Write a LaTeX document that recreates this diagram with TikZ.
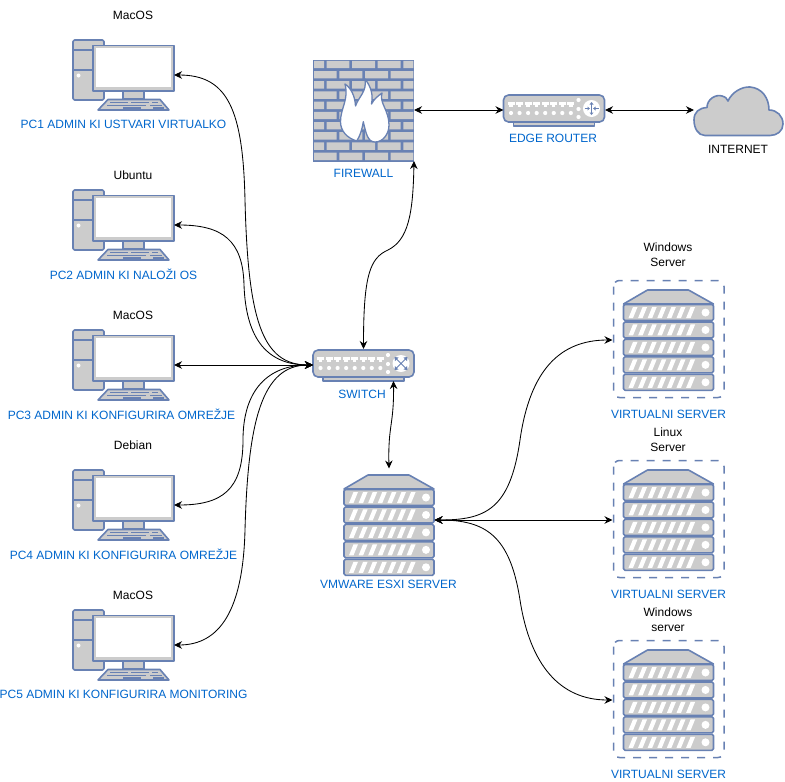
\documentclass[tikz,border=0pt]{standalone}
\usepackage{fontspec}
\setmainfont{Liberation Sans}
\usetikzlibrary{arrows.meta}
\definecolor{icoline}{HTML}{6881B3}
\definecolor{icofill}{HTML}{CCCCCC}
\definecolor{bluetxt}{HTML}{0066CC}
\tikzset{
  x=1pt,y=-1pt,
  ico/.style={draw=icoline,fill=icofill,line width=1.6pt,line join=round},
  hit/.style={inner sep=0pt,outer sep=0pt,minimum width=#1},
  bl/.style={font=\fontsize{12}{14}\selectfont,text=bluetxt,inner sep=0pt},
  bk/.style={font=\fontsize{12}{14}\selectfont,text=black,inner sep=0pt,align=center},
  link/.style={draw=black,line width=0.85pt,{Stealth[length=8pt,width=7.5pt]}-{Stealth[length=8pt,width=7.5pt]}},
  pics/pcicon/.style={code={
    \draw[ico,rounded corners=1.5pt] (73,40) rectangle (104,100);
    \draw[icoline,line width=1.3pt] (73,50) -- (104,50) (73,70) -- (104,70);
    \fill[white] (78.5,75.5) circle (2);
    \draw[ico] (123,90) rectangle (144,99);
    \draw[ico] (108,99.5) -- (160,99.5) -- (169,110) -- (98,110) -- cycle;
    \draw[icoline,line width=1.3pt] (110,102.5) -- (128,102.5) (131,102.5) -- (149,102.5) (152,102.5) -- (158,102.5)
      (107,105.2) -- (146,105.2) (150,105.2) -- (162,105.2)
      (123,108) -- (141,108) (153,108) -- (164,108);
    \draw[ico,fill=icofill,line width=1.8pt] (93,45.5) rectangle (174,91);
    \fill[white] (95.5,48) rectangle (171,87);
  }},
  pics/servericon/.style={code={
    \draw[ico] (0,14) -- (24,0) -- (65,0) -- (90,14) -- cycle;
    \foreach \r in {0,1,2,3,4}{
      \begin{scope}[yshift=-\r*17.45pt]
        \draw[ico,rounded corners=1.5pt] (0,14.5) rectangle (90,30.5);
        \fill[white] (82,22.5) circle (4);
        \foreach \s in {0,1,2,3,4,5,6}{
          \fill[white] (5+\s*9.6,28) -- (9.5+\s*9.6,28) -- (14+\s*9.6,17) -- (9.5+\s*9.6,17) -- cycle;
        }
      \end{scope}
    }
  }},
  pics/switchbody/.style={code={
    \draw[ico,line width=1.3pt] (10,26) rectangle (91,31);
    \draw[ico,rounded corners=5pt] (0,0) rectangle (101,27);
    \foreach \p in {0,...,7}{
      \fill[white] (4+\p*8.55,6.5) rectangle (11+\p*8.55,10);
      \fill[white] (5.8+\p*8.55,10) rectangle (9.2+\p*8.55,12);
      \fill[white] (7.5+\p*8.55,18) circle (2.1);
    }
    \foreach \yy in {5,14,22}{\fill[white] (75,\yy) circle (2.1);}
    \fill[white] (88,13.5) circle (8.5);
  }}
}
\begin{document}
\begin{tikzpicture}
\useasboundingbox (0,0) rectangle (785,782);
% PCs
\foreach \yy in {0,150,290,430,570}{\pic at (0,\yy) {pcicon};}
\node[hit=101,minimum height=70] (pc1) at (123.5,75) {};
\node[hit=101,minimum height=70] (pc2) at (123.5,225) {};
\node[hit=101,minimum height=70] (pc3) at (123.5,365) {};
\node[hit=101,minimum height=70] (pc4) at (123.5,505) {};
\node[hit=101,minimum height=70] (pc5) at (123.5,645) {};
\node[bk] (os1) at (133,15) {MacOS};
\node[bk] (os2) at (133,175) {Ubuntu};
\node[bk] (os3) at (133,315) {MacOS};
\node[bk] (os4) at (133,445) {Debian};
\node[bk] (os5) at (133,595) {MacOS};
\node[bl] (l1) at (123.5,124) {PC1 ADMIN KI USTVARI VIRTUALKO};
\node[bl] (l2) at (123.5,274) {PC2 ADMIN KI NALOŽI OS};
\node[bl] (l3) at (121.5,414) {PC3 ADMIN KI KONFIGURIRA OMREŽJE};
\node[bl] (l4) at (123.5,554) {PC4 ADMIN KI KONFIGURIRA OMREŽJE};
\node[bl] (l5) at (123.5,694) {PC5 ADMIN KI KONFIGURIRA MONITORING};
% Firewall
\fill[icoline] (312.7,59.5) rectangle (414,161.5);
\foreach \r in {0,2,4,6,8}{
  \begin{scope}[yshift=-\r*10.2pt]
    \fill[icofill] (314,60.8) rectangle (324,68.2) (326.7,60.8) rectangle (349.3,68.2)
      (352,60.8) rectangle (375,68.2) (377.7,60.8) rectangle (400.7,68.2) (403.3,60.8) rectangle (413.3,68.2);
    \fill[icofill] (314,71) rectangle (336.7,78.4) (339.3,71) rectangle (362.3,78.4)
      (365,71) rectangle (388,78.4) (390.7,71) rectangle (413.3,78.4);
  \end{scope}
}
\draw[draw=icoline,fill=white,line width=1.3pt,line join=round] (356.7,141)
  .. controls (347,138) and (340.5,131) .. (340.5,121.7)
  .. controls (340.5,108) and (349,100) .. (345,84)
  .. controls (351,88) and (355,96) .. (355.5,106)
  .. controls (359,96) and (367,92) .. (365,79)
  .. controls (372,88) and (373,96) .. (371.5,104)
  .. controls (374,99) and (378,96) .. (382,93)
  .. controls (379,103) and (389,110) .. (389,125)
  .. controls (389,134) and (383,142) .. (375,142)
  .. controls (368,142) and (366,134) .. (363.3,121.7)
  .. controls (362,130) and (360,136) .. (356.7,141) -- cycle;
\node[hit=101,minimum height=102] (fw) at (363.5,110) {};
\node[bl] (fwl) at (363.5,173) {FIREWALL};
% Router
\pic at (503.5,95) {switchbody};
\begin{scope}[icoline,line width=0.8pt]
  \draw (591.5,103.5) -- (591.5,113.5) (584.5,108.5) -- (589,108.5) (594,108.5) -- (598.5,108.5);
  \fill (591.5,102) -- (589.5,104.5) -- (593.5,104.5) -- cycle (591.5,115) -- (589.5,112.5) -- (593.5,112.5) -- cycle
    (589.8,108.5) -- (587.5,106.5) -- (587.5,110.5) -- cycle (593.2,108.5) -- (595.5,106.5) -- (595.5,110.5) -- cycle;
\end{scope}
\node[hit=101.5,minimum height=30] (rt) at (554.25,110) {};
\node[bl] (rtl) at (553,138) {EDGE ROUTER};
% Cloud
\draw[ico] (705,135.5)
  .. controls (698,135.5) and (694,128) .. (694,120)
  .. controls (694,112) and (699,108) .. (707,107.5)
  .. controls (707,99) and (716,94) .. (722,96)
  .. controls (726,97) and (727,99) .. (728,101)
  .. controls (732,92) and (742,86.5) .. (750,87)
  .. controls (762,88) and (769,98) .. (769,110)
  .. controls (777,110) and (783,116) .. (783,124)
  .. controls (783,131) and (777,135.5) .. (770,135.5) -- cycle;
\node[hit=90,minimum height=50] (net) at (739,110) {};
\node[bk] (netl) at (738,149) {INTERNET};
% Switch
\pic at (313,350) {switchbody};
\begin{scope}[icoline,line width=0.8pt]
  \draw (395.5,358) -- (406.5,369) (406.5,358) -- (395.5,369);
  \fill (394.5,357) -- (398.5,357.5) -- (395,361) -- cycle (407.5,357) -- (403.5,357.5) -- (407,361) -- cycle
    (394.5,370) -- (398.5,369.5) -- (395,366) -- cycle (407.5,370) -- (403.5,369.5) -- (407,366) -- cycle;
\end{scope}
\node[hit=101,minimum height=32] (sw) at (363.5,365) {};
\node[bl] (swl) at (362,394) {SWITCH};
% ESXi
\pic at (344,475) {servericon};
\node[hit=91,minimum height=103] (esx) at (389,520) {};
\node[bl] (esxl) at (388.5,584) {VMWARE ESXI SERVER};
% Virtual servers
\foreach \yy in {0,180,360}{
  \draw[icoline,line width=1.5pt,dash pattern=on 8pt off 8pt,rounded corners=6pt] (613.5,280.5+\yy) rectangle (724,397.5+\yy);
  \pic at (623.5,290+\yy) {servericon};
}
\node[hit=112,minimum height=117] (v1) at (668.5,340) {};
\node[hit=112,minimum height=117] (v2) at (668.5,520) {};
\node[hit=112,minimum height=117] (v3) at (668.5,700) {};
\node[bl] (vl1) at (668.5,414) {VIRTUALNI SERVER};
\node[bl] (vl2) at (668.5,594) {VIRTUALNI SERVER};
\node[bl] (vl3) at (668.5,774) {VIRTUALNI SERVER};
\node[bk] (vo1) at (668,254.5) {Windows\\[1pt]Server};
\node[bk] (vo2) at (668,439.5) {Linux\\[1pt]Server};
\node[bk] (vo3) at (668,619.5) {Windows\\[1pt]server};
% Connectors
\draw[link] (pc1.east) .. controls (228,75) and (243,110) .. (245,200) .. controls (248,320) and (262,365) .. (sw.west);
\draw[link] (pc2.east) .. controls (222,225) and (243,240) .. (244,285) .. controls (246,340) and (268,365) .. (sw.west);
\draw[link] (pc3.east) -- (sw.west);
\draw[link] (pc4.east) .. controls (222,505) and (243,490) .. (243,440) .. controls (243,390) and (268,365) .. (sw.west);
\draw[link] (pc5.east) .. controls (220,645) and (243,610) .. (245,530) .. controls (248,420) and (262,365) .. (sw.west);
\draw[link] (fw.south east) .. controls (413,215) and (408,240) .. (388,250) .. controls (370,258) and (363.5,275) .. (sw.north);
\draw[link] (fw.east) -- (rt.west);
\draw[link] (rt.east) -- (net.west);
\draw[link] ([xshift=30pt]sw.south) .. controls (394,425) and (388,425) .. (esx.north);
\draw[link] (esx.east) .. controls (485,520) and (510,510) .. (520,440) .. controls (530,370) and (560,340) .. (v1.west);
\draw[link] (esx.east) -- (v2.west);
\draw[link] (esx.east) .. controls (485,520) and (510,535) .. (520,600) .. controls (530,665) and (560,700) .. (v3.west);
\end{tikzpicture}
\end{document}
